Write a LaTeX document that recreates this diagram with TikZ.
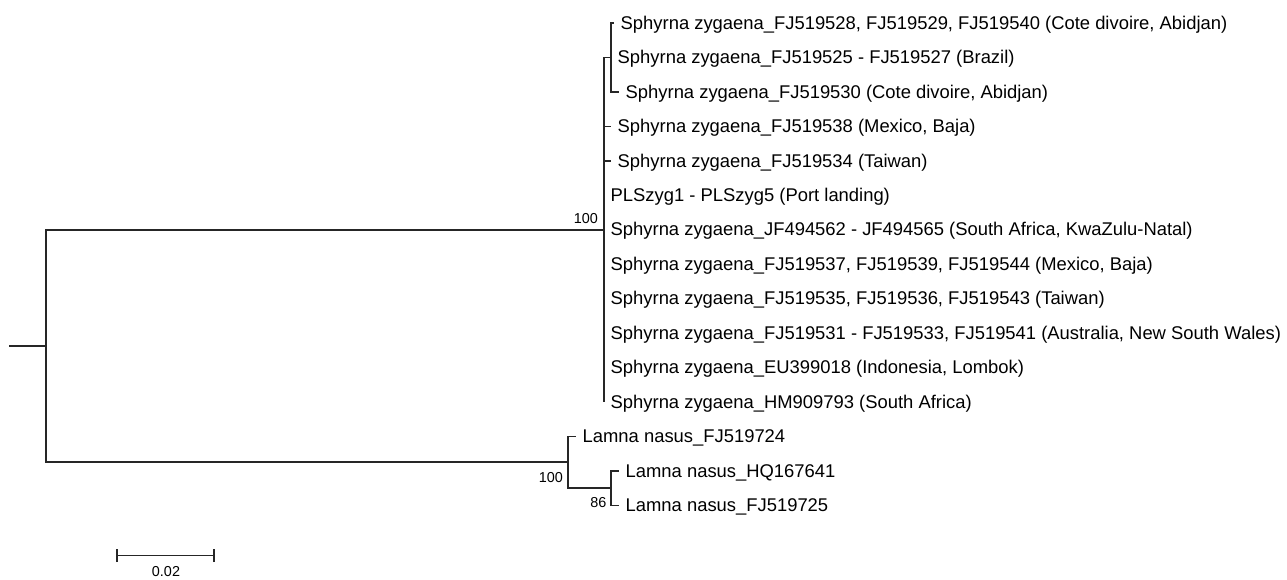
\documentclass[tikz,border=0pt]{standalone}
\usepackage{fontspec}
\setmainfont{Liberation Sans}
\begin{document}
\begin{tikzpicture}[x=1pt,y=-1pt,
  branch/.style={line width=1.5pt,draw=black!85},
  leaf/.style={anchor=west,inner sep=0pt,xshift=6.5pt,yshift=-1.5pt,font=\fontsize{18.4}{21}\selectfont},
  boot/.style={inner sep=0pt,font=\fontsize{14.4}{16}\selectfont}]
\useasboundingbox (0,0) rectangle (1287,579);
% internal nodes
\coordinate (root) at (9,346);
\coordinate (n0)   at (46,346);
\coordinate (nS)   at (604,230);
\coordinate (nS1)  at (611,57.5);
\coordinate (nL)   at (568,462);
\coordinate (nL1)  at (611,488);
% leaf tips
\coordinate (l1)  at (614,23);
\coordinate (l2)  at (611,57.5);
\coordinate (l3)  at (619,91.9);
\coordinate (l4)  at (611,126.4);
\coordinate (l5)  at (611,160.8);
\coordinate (l6)  at (604,195.2);
\coordinate (l7)  at (604,229.7);
\coordinate (l8)  at (604,264.2);
\coordinate (l9)  at (604,298.6);
\coordinate (l10) at (604,333.0);
\coordinate (l11) at (604,367.5);
\coordinate (l12) at (604,402.0);
\coordinate (l13) at (576,436.4);
\coordinate (l14) at (619,470.9);
\coordinate (l15) at (619,505.3);
% branches
\draw[branch] (root) -- (n0);
\draw[branch] (n0) |- (nS);
\draw[branch] (n0) |- (nL);
\draw[branch] (nS) |- (nS1);
\draw[branch] (nS1) |- (l1);
\draw[branch] (nS1) |- (l3);
\draw[branch] (nS) |- (l4);
\draw[branch] (nS) |- (l5);
\draw[branch] (nS) |- (l12);
\draw[branch] (nL) |- (l13);
\draw[branch] (nL) |- (nL1);
\draw[branch] (nL1) |- (l14);
\draw[branch] (nL1) |- (l15);
% taxon labels
\node[leaf] (t1)  at (l1)  {Sphyrna zygaena\_FJ519528, FJ519529, FJ519540 (Cote divoire, Abidjan)};
\node[leaf] (t2)  at (l2)  {Sphyrna zygaena\_FJ519525 - FJ519527 (Brazil)};
\node[leaf] (t3)  at (l3)  {Sphyrna zygaena\_FJ519530 (Cote divoire, Abidjan)};
\node[leaf] (t4)  at (l4)  {Sphyrna zygaena\_FJ519538 (Mexico, Baja)};
\node[leaf] (t5)  at (l5)  {Sphyrna zygaena\_FJ519534 (Taiwan)};
\node[leaf] (t6)  at (l6)  {PLSzyg1 - PLSzyg5 (Port landing)};
\node[leaf] (t7)  at (l7)  {Sphyrna zygaena\_JF494562 - JF494565 (South Africa, KwaZulu-Natal)};
\node[leaf] (t8)  at (l8)  {Sphyrna zygaena\_FJ519537, FJ519539, FJ519544 (Mexico, Baja)};
\node[leaf] (t9)  at (l9)  {Sphyrna zygaena\_FJ519535, FJ519536, FJ519543 (Taiwan)};
\node[leaf] (t10) at (l10) {Sphyrna zygaena\_FJ519531 - FJ519533, FJ519541 (Australia, New South Wales)};
\node[leaf] (t11) at (l11) {Sphyrna zygaena\_EU399018 (Indonesia, Lombok)};
\node[leaf] (t12) at (l12) {Sphyrna zygaena\_HM909793 (South Africa)};
\node[leaf] (t13) at (l13) {Lamna nasus\_FJ519724};
\node[leaf] (t14) at (l14) {Lamna nasus\_HQ167641};
\node[leaf] (t15) at (l15) {Lamna nasus\_FJ519725};
% bootstrap values
\node[boot,anchor=south east] (b1) at ([xshift=-6pt,yshift=6.5pt]nS) {100};
\node[boot,anchor=north east] (b2) at ([xshift=-5pt,yshift=-10pt]nL) {100};
\node[boot,anchor=east] (b3) at ([xshift=-4.5pt,yshift=-15pt]nL1) {86};
% scale bar
\coordinate (s0) at (117,555.5);
\coordinate (s1) at (214,555.5);
\draw[branch] (s0) -- (s1);
\draw[branch] ([yshift=-6.5pt]s0) -- ([yshift=6.5pt]s0);
\draw[branch] ([yshift=-6.5pt]s1) -- ([yshift=6.5pt]s1);
\node[boot] (sl) at (166,572) {0.02};
\end{tikzpicture}
\end{document}
